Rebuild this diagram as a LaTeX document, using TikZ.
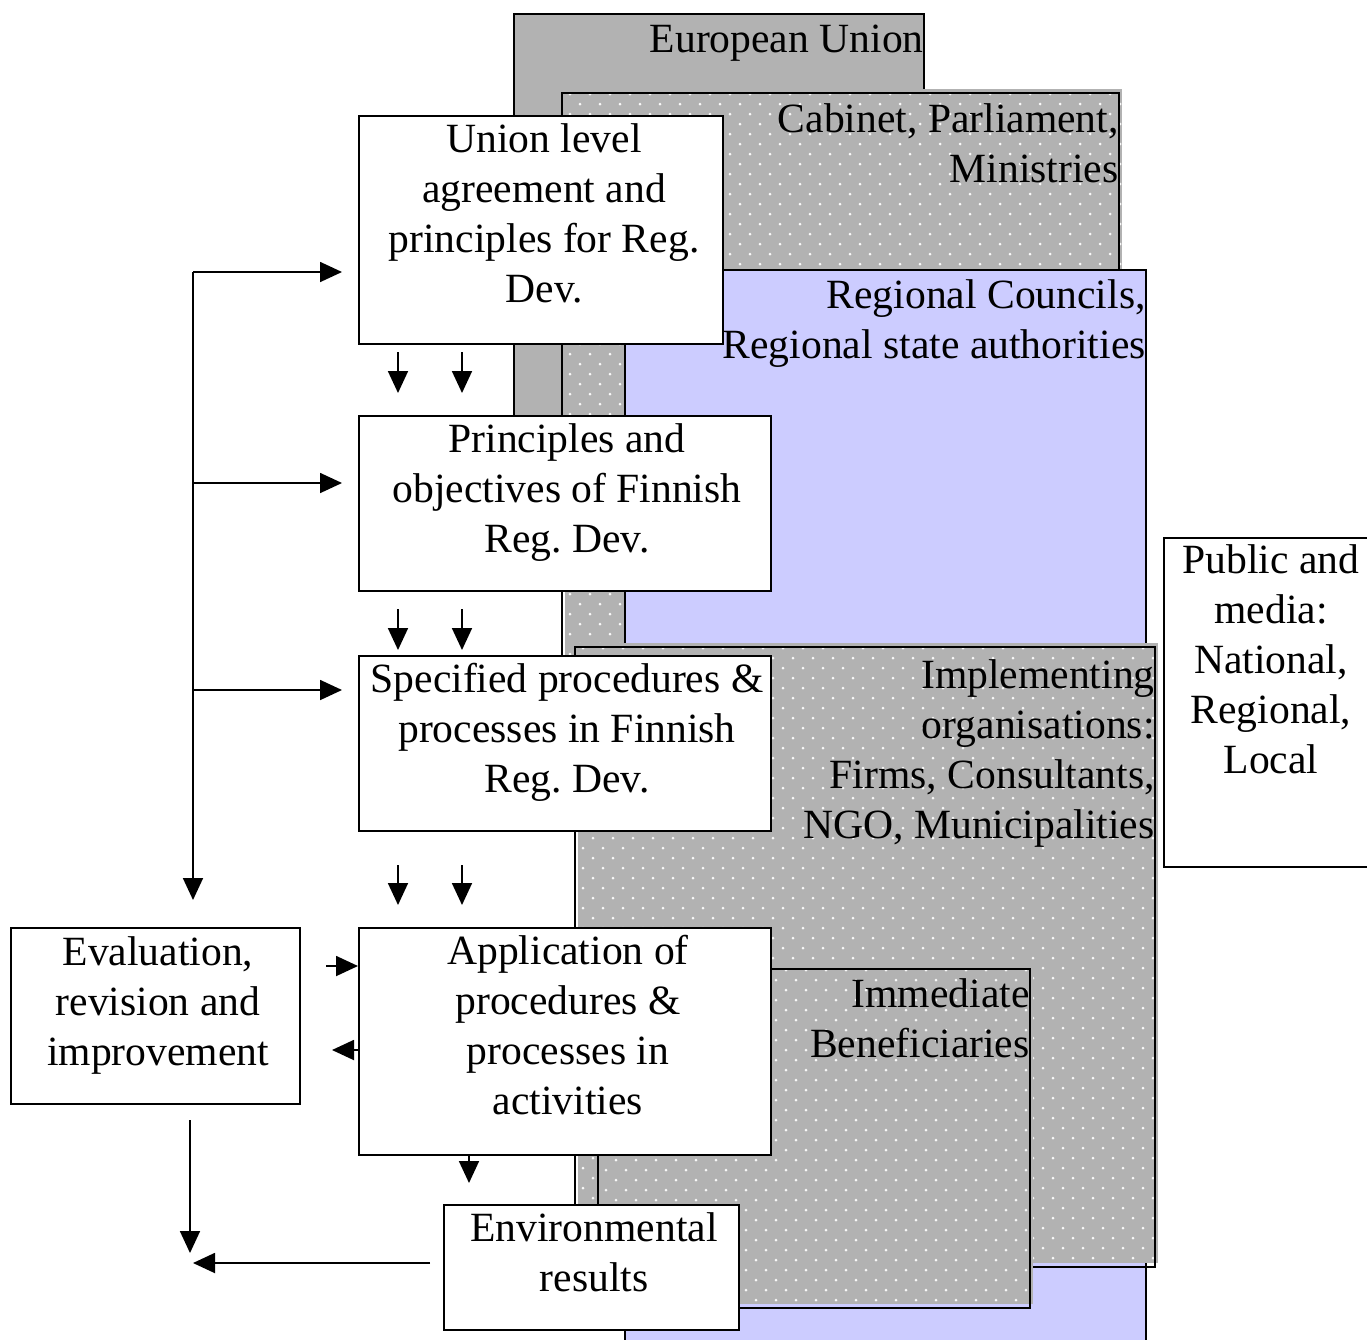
\documentclass[tikz,border=0pt]{standalone}
\usepackage{fontspec}
\setmainfont{Liberation Serif}
\usetikzlibrary{arrows.meta,calc}
\definecolor{eugrey}{HTML}{B2B2B2}
\definecolor{regblue}{HTML}{CCCCFF}
\frenchspacing
\tikzset{
  bgline/.style={draw=black, line width=1.1pt},
  box/.style={draw=black, fill=white, line width=1.1pt, anchor=north west, inner sep=0pt},
  txt/.style={font=\fontsize{20.8}{25}\selectfont, inner sep=0pt, align=center, anchor=north},
  rtxt/.style={txt, align=right, anchor=north east},
  arr/.style={line width=0.9pt, -{Triangle[length=11pt,width=10pt]}},
}
% dotted grey fill: x0 y0 x1 y1 rows cols
\newcommand\mydotrect[6]{%
  \fill[eugrey] ({#1+3},{#2-4}) rectangle ({#3+3},{#4-4});
  \begin{scope}
    \clip ({#1+3},{#2-4}) rectangle ({#3+3},{#4-4});
    \fill[white!92!eugrey] \foreach \r in {0,...,#5} { \foreach \c in {0,...,#6} {
      ({#1+mod(\r,2)*10+20*\c+8},{#2+10*\r+1}) circle[radius=0.75pt] } };
  \end{scope}
  \draw[bgline] (#1,#2) rectangle (#3,#4);
}
\begin{document}
\begin{tikzpicture}[x=0.5pt,y=-0.5pt]
\useasboundingbox (0,0) rectangle (1367,1340);
% background areas
\fill[eugrey] (514,14) rectangle (924,500);
\draw[bgline] (514,14) rectangle (924,500);
\mydotrect{562}{93}{1119}{700}{62}{28}
\fill[regblue] (625,270) rectangle (1146,1380);
\draw[bgline] (625,1380) -- (625,270) -- (1146,270) -- (1146,1380);
\mydotrect{575}{647}{1155}{1267}{63}{29}
\mydotrect{598}{969}{1030}{1308}{35}{22}
% background labels
\node[rtxt] (tEU) at (924,17) {\strut European Union};
\node[rtxt] (tCab) at (1119,97) {\strut Cabinet, Parliament,\\Ministries};
\node[rtxt] (tReg) at (1146,273) {\strut Regional Councils,\\Regional state authorities};
\node[rtxt] (tImp) at (1155,653) {\strut Implementing\\organisations:\\Firms, Consultants,\\NGO, Municipalities};
\node[rtxt] (tBen) at (1030,972) {\strut Immediate\\Beneficiaries};
% boxes
\node[box, minimum width=182pt, minimum height=114pt] (union) at (358,115) {};
\node[box, minimum width=206pt, minimum height=87.5pt] (princ) at (358,415) {};
\node[box, minimum width=206pt, minimum height=87.5pt] (spec) at (358,655) {};
\node[box, minimum width=206pt, minimum height=113.5pt] (app) at (358,927) {};
\node[box, minimum width=144.5pt, minimum height=88pt] (evalb) at (10,927) {};
\node[box, minimum width=147.5pt, minimum height=62.5pt] (env) at (443,1204) {};
\node[box, minimum width=108pt, minimum height=164.5pt] (pub) at (1163,537) {};
% box texts
\node[txt] (tUn) at (544,117) {\strut Union level\\agreement and\\principles for Reg.\\Dev.};
\node[txt] (tPr) at (567,417) {\strut Principles and\\objectives of Finnish\\Reg. Dev.};
\node[txt] (tSp) at (567,657) {\strut Specified procedures \&\\processes in Finnish\\Reg. Dev.};
\node[txt] (tAp) at (568,929) {\strut Application of\\procedures \&\\processes in\\activities};
\node[txt] (tEv) at (158,930) {\strut Evaluation,\\revision and\\improvement};
\node[txt] (tEn) at (594,1206) {\strut Environmental\\results};
\node[txt] (tPu) at (1271,538) {\strut Public and\\media:\\National,\\Regional,\\Local};
% downward pairs
\foreach \dx in {40,104} {
  \draw[arr] ($(union.south west)+(\dx,7)$) -- ($(princ.north west)+(\dx,-22)$);
  \draw[arr] ($(princ.south west)+(\dx,17)$) -- ($(spec.north west)+(\dx,-5)$);
  \draw[arr] ($(spec.south west)+(\dx,33)$) -- ($(app.north west)+(\dx,-22)$);
}
% feedback spine
\coordinate (s1) at (193,272);
\coordinate (s2) at (193,483);
\coordinate (s3) at (193,690);
\draw[arr] (s1) -- ($(s1 |- evalb.north)+(0,-27)$);
\draw[arr, shorten >=8pt] (s1) -- (s1 -| union.west);
\draw[arr, shorten >=8pt] (s2) -- (s2 -| princ.west);
\draw[arr, shorten >=8pt] (s3) -- (s3 -| spec.west);
% evaluation <-> application
\coordinate (e2a) at (326,966);
\draw[arr] (e2a) -- (e2a -| app.west);
\coordinate (a2e) at (332,1050);
\draw[arr] (a2e -| app.west) -- (a2e);
% application -> environmental results
\coordinate (ae) at (469,1183);
\draw[arr] (ae |- app.south) -- (ae);
% to the bottom-left corner
\coordinate (vb) at (190,1253);
\draw[arr] ($(vb |- evalb.south)+(0,15)$) -- (vb);
\coordinate (hb) at (193,1263);
\draw[arr] ($(hb -| env.west)+(-13,0)$) -- (hb);
\end{tikzpicture}
\end{document}
